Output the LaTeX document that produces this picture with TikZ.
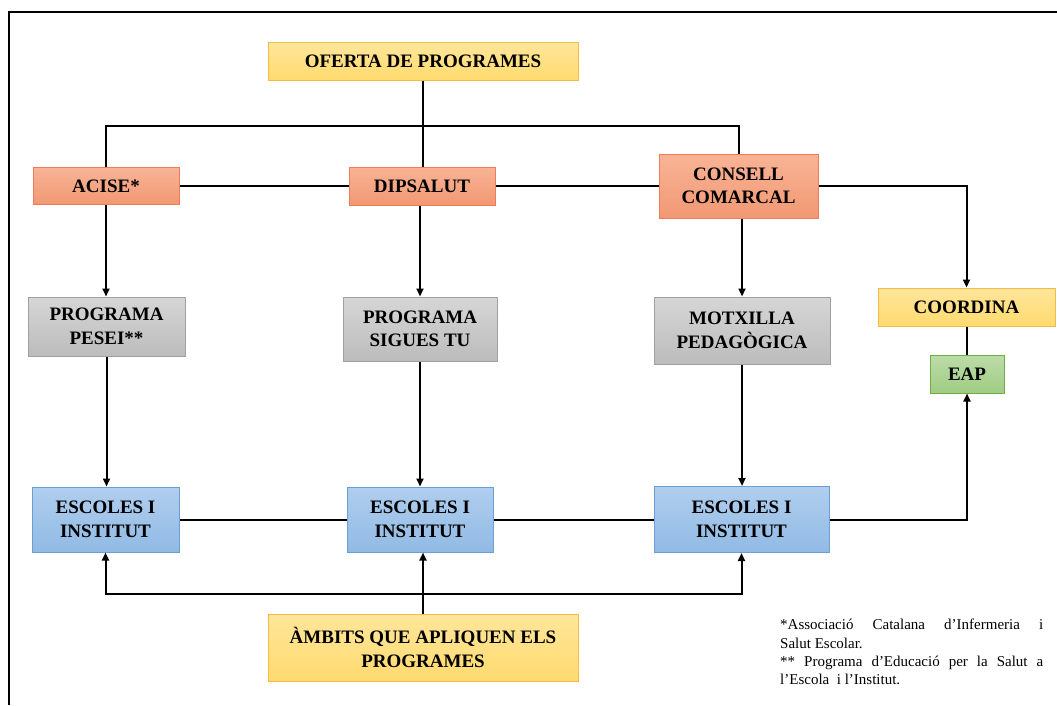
\documentclass[tikz,border=0pt]{standalone}
\usepackage{fontspec}
\setmainfont{Liberation Serif}
\usetikzlibrary{arrows.meta}
\definecolor{ofyellow}{RGB}{255,218,110}
\definecolor{ofyellowlt}{RGB}{255,230,155}
\definecolor{ofyellowdk}{RGB}{244,188,70}
\definecolor{entsalmon}{RGB}{242,152,115}
\definecolor{entsalmonlt}{RGB}{248,180,150}
\definecolor{entsalmondk}{RGB}{236,125,88}
\definecolor{proggray}{RGB}{188,188,188}
\definecolor{proggraylt}{RGB}{214,214,214}
\definecolor{proggraydk}{RGB}{160,160,160}
\definecolor{escblue}{RGB}{145,186,228}
\definecolor{escbluelt}{RGB}{176,206,238}
\definecolor{escbluedk}{RGB}{108,158,210}
\definecolor{eapgreen}{RGB}{160,204,132}
\definecolor{eapgreenlt}{RGB}{188,220,168}
\definecolor{eapgreendk}{RGB}{112,173,71}

\begin{document}
\begin{tikzpicture}[x=1pt, y=-1pt, >={Triangle[length=8pt,width=7pt]},
  box/.style={rectangle, draw, line width=1pt, align=center, inner sep=2pt, font=\bfseries\fontsize{19}{23.5}\selectfont},
  yellowbox/.style={box, draw=ofyellowdk, top color=ofyellowlt, bottom color=ofyellow},
  salmonbox/.style={box, draw=entsalmondk, top color=entsalmonlt, bottom color=entsalmon},
  graybox/.style={box, draw=proggraydk, top color=proggraylt, bottom color=proggray},
  bluebox/.style={box, draw=escbluedk, top color=escbluelt, bottom color=escblue},
  greenbox/.style={box, draw=eapgreendk, top color=eapgreenlt, bottom color=eapgreen},
  link/.style={line width=2pt}]

\useasboundingbox (0,0) rectangle (1057,705);
\draw[line width=2.2pt] (9,705) -- (9,12) -- (1057,12);

\node[yellowbox, minimum width=310pt, minimum height=38pt] (oferta) at (423,61) {OFERTA DE PROGRAMES};

\node[salmonbox, minimum width=146pt, minimum height=37pt] (acise) at (106,186) {ACISE*};
\node[salmonbox, minimum width=146pt, minimum height=38pt] (dipsalut) at (422,186) {DIPSALUT};
\node[salmonbox, minimum width=159pt, minimum height=64pt] (consell) at (738.5,186) {CONSELL\\COMARCAL};

\node[graybox, minimum width=157pt, minimum height=59pt] (pesei) at (106.5,326.5) {PROGRAMA\\PESEI**};
\node[graybox, minimum width=154pt, minimum height=64pt] (sigues) at (420,329) {PROGRAMA\\SIGUES TU};
\node[graybox, minimum width=176pt, minimum height=67pt] (motxilla) at (742,330.5) {MOTXILLA\\PEDAGÒGICA};

\node[yellowbox, minimum width=177pt, minimum height=38pt] (coordina) at (966.5,307) {COORDINA};
\node[greenbox, minimum width=74pt, minimum height=38pt] (eap) at (967,374) {EAP};

\node[bluebox, minimum width=147pt, minimum height=65pt] (escola1) at (105.5,519.5) {ESCOLES I\\INSTITUT};
\node[bluebox, minimum width=146pt, minimum height=65pt] (escola2) at (420,519.5) {ESCOLES I\\INSTITUT};
\node[bluebox, minimum width=175pt, minimum height=66pt] (escola3) at (741.5,519.5) {ESCOLES I\\INSTITUT};

\node[yellowbox, minimum width=310pt, minimum height=67pt] (ambits) at (423,647.5) {ÀMBITS QUE APLIQUEN ELS\\PROGRAMES};

\node[anchor=north west, text width=263pt, align=justify, inner sep=0pt,
  font=\fontsize{15}{18.3}\selectfont] (nota) at (780,619)
  {*Associació Catalana d’Infermeria i\linebreak Salut Escolar.\\{}**
   Programa d’Educació per la Salut a\linebreak l’Escola~ i l’Institut.};

\coordinate (topbar) at (0,126);
\coordinate (lowbar) at (0,594);

\draw[link] (oferta.south) -- (oferta.south |- dipsalut.north);
\draw[link] (acise.north) -- (acise.north |- topbar) -| (consell.north);
\draw[link] (acise) -- (dipsalut);
\draw[link] (dipsalut) -- (consell);
\draw[link,->] (consell.east) -| (coordina.north);
\draw[link] (coordina.south -| eap.north) -- (eap.north);

\draw[link,->] (acise.south) -- (acise.south |- pesei.north);
\draw[link,->] (sigues.north |- dipsalut.south) -- (sigues.north);
\draw[link,->] (motxilla.north |- consell.south) -- (motxilla.north);

\draw[link,->] (pesei.south) -- (pesei.south |- escola1.north);
\draw[link,->] (sigues.south) -- (escola2.north);
\draw[link,->] (motxilla.south) -- (motxilla.south |- escola3.north);

\draw[link] (escola1) -- (escola2);
\draw[link] (escola2) -- (escola3);
\draw[link,->] (escola3.east) -| (eap.south);

\draw[link,<->] (escola1.south) -- (escola1.south |- lowbar) -| (escola3.south);
\draw[link,->] (ambits.north) -- (ambits.north |- escola2.south);
\end{tikzpicture}
\end{document}
